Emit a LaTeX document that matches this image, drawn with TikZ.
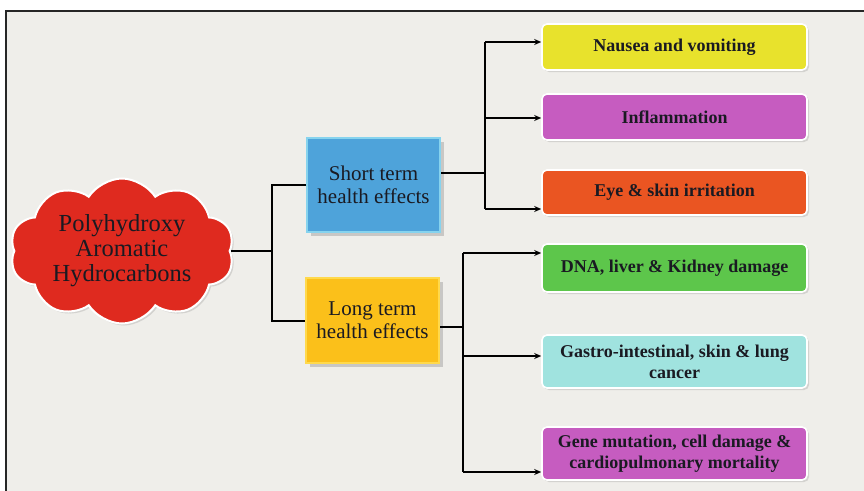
\documentclass[tikz,border=0pt]{standalone}
\usepackage{fontspec}
\setmainfont{Liberation Serif}
\usetikzlibrary{shapes.symbols,shadows,arrows.meta}
\definecolor{bgc}{HTML}{EFEEEA}
\definecolor{txt}{HTML}{1A1A22}
\definecolor{cloudred}{HTML}{DF2A1F}
\definecolor{shortblue}{HTML}{4EA3DA}
\definecolor{shortedge}{HTML}{86D3EE}
\definecolor{longyel}{HTML}{FBC01A}
\definecolor{longedge}{HTML}{FFD94C}
\definecolor{cyel}{HTML}{E8E22C}
\definecolor{cmag}{HTML}{C65CC0}
\definecolor{corg}{HTML}{EA5522}
\definecolor{cgrn}{HTML}{5DC64B}
\definecolor{ccyan}{HTML}{A0E3DF}
\begin{document}
\begin{tikzpicture}[x=1pt,y=-1pt,
  leaf/.style={rounded corners=5pt, draw=white, line width=1.6pt,
    minimum width=265pt, inner sep=0pt, align=center,
    font=\fontsize{18}{21}\selectfont\bfseries, text=txt,
    drop shadow={opacity=0.25,shadow xshift=2pt,shadow yshift=-2pt}},
  midbox/.style={line width=2pt, minimum width=133pt, inner sep=0pt,
    align=center, font=\fontsize{21}{23}\selectfont, text=txt,
    drop shadow={opacity=0.35,shadow xshift=4pt,shadow yshift=-4pt}},
  conn/.style={line width=1.4pt, draw=black},
  arr/.style={conn, -{Stealth[length=7pt,width=6pt]}}]
\useasboundingbox (0,0) rectangle (864,490);
\fill[white] (0,0) rectangle (864,490);
\fill[bgc] (6,11) rectangle (866,494);
\draw[line width=1.8pt, black!85] (6,494) -- (6,11) -- (866,11);

% nodes
\node[cloud, cloud puffs=10, cloud puff arc=115, aspect=1.5,
  fill=cloudred, draw=white, line width=2pt, minimum width=224pt,
  minimum height=145pt, inner sep=-14pt, align=center,
  font=\fontsize{24.5}{25}\selectfont, text=txt,
  drop shadow={opacity=0.25,shadow xshift=2pt,shadow yshift=-2pt}]
  (pah) at (122,251) {Polyhydroxy\\Aromatic\\Hydrocarbons};

\node[midbox, fill=shortblue, draw=shortedge, minimum height=94pt]
  (short) at (373.5,185) {Short term\\health effects};
\node[midbox, fill=longyel, draw=longedge, minimum height=85pt]
  (long) at (372.5,320) {Long term\\health effects};

\node[leaf, fill=cyel, minimum height=46pt] (n1) at (674.5,47) {Nausea and vomiting};
\node[leaf, fill=cmag, minimum height=46pt] (n2) at (674.5,117) {Inflammation};
\node[leaf, fill=corg, minimum height=45pt] (n3) at (674.5,192.5) {Eye \& skin irritation};
\node[leaf, fill=cgrn, minimum height=48pt] (n4) at (674.5,268) {DNA, liver \& Kidney damage};
\node[leaf, fill=ccyan, minimum height=53pt] (n5) at (674.5,361.5) {Gastro-intestinal, skin \& lung\\cancer};
\node[leaf, fill=cmag, minimum height=53pt] (n6) at (674.5,453.5) {Gene mutation, cell damage \&\\cardiopulmonary mortality};

% junction coordinates
\coordinate (j0) at (272,251);
\coordinate (js) at (272,185);
\coordinate (jl) at (272,321);
\coordinate (s0) at (485,173);
\coordinate (a1) at (485,42);
\coordinate (a2) at (485,118);
\coordinate (a3) at (485,209);
\coordinate (l0) at (463,327);
\coordinate (b1) at (463,253);
\coordinate (b2) at (463,356);
\coordinate (b3) at (463,472);

% connectors
\draw[conn] (pah.east |- j0) -- (j0);
\draw[conn] (short.west |- js) -- (js) -- (jl) -- (long.west |- jl);
\draw[conn] (short.east |- s0) -- (s0);
\draw[conn] (a1) -- (a3);
\draw[arr] (a1) -- (a1 -| n1.west);
\draw[arr] (a2) -- (a2 -| n2.west);
\draw[arr] (a3) -- (a3 -| n3.west);
\draw[conn] (long.east |- l0) -- (l0);
\draw[conn] (b1) -- (b3);
\draw[arr] (b1) -- (b1 -| n4.west);
\draw[arr] (b2) -- (b2 -| n5.west);
\draw[arr] (b3) -- (b3 -| n6.west);
\end{tikzpicture}
\end{document}
